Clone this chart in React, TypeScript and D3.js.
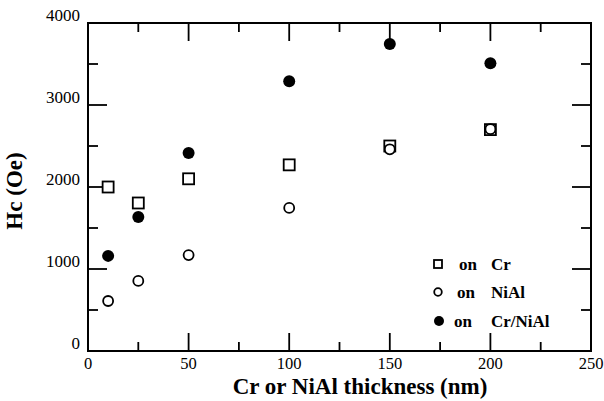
import React from "react";
import * as d3 from "d3";

const thickness = [10, 25, 50, 100, 150, 200];
const onCr = [2000, 1805, 2100, 2270, 2500, 2700];
const onNiAl = [610, 855, 1170, 1745, 2460, 2705];
const onCrNiAl = [1160, 1635, 2415, 3290, 3745, 3510];
const xTicks = [0, 50, 100, 150, 200, 250];
const yTicks = [0, 1000, 2000, 3000, 4000];
const legendLabels = [
  ["on", "Cr"],
  ["on", "NiAl"],
  ["on", "Cr/NiAl"],
];

const W = 604, H = 401;
const L = 88, R = 591, T = 23, B = 351;

export default function App() {
  const x = d3.scaleLinear().domain([0, 250]).range([L, R]);
  const y = d3.scaleLinear().domain([0, 4000]).range([B, T]);
  const xMinor = d3.range(0, 251, 25);
  const yMinor = d3.range(0, 4001, 500);
  const font = "'Liberation Serif', 'DejaVu Serif', serif";
  const sw = 1.8;

  const square = (cx: number, cy: number, k: string, s = 11) => (
    <rect key={k} x={cx - s / 2} y={cy - s / 2} width={s} height={s} fill="white" stroke="black" strokeWidth={1.8} />
  );
  const openC = (cx: number, cy: number, k: string, r = 5) => (
    <circle key={k} cx={cx} cy={cy} r={r} fill="white" stroke="black" strokeWidth={1.8} />
  );
  const fillC = (cx: number, cy: number, k: string, r = 6) => (
    <circle key={k} cx={cx} cy={cy} r={r} fill="black" />
  );

  const legendY = [264, 292, 321];
  const legendOnX = [459, 457, 454];
  const legendMarks = [
    square(438, legendY[0], "lm0", 8),
    openC(438, legendY[1], "lm1", 3.8),
    fillC(439, legendY[2], "lm2", 5),
  ];

  return (
    <svg width={W} height={H} style={{ position: "absolute", left: 0, top: 0, background: "white" }}>
      <rect x={0} y={0} width={W} height={H} fill="white" />
      {xMinor.map((v) => {
        const major = v % 50 === 0;
        const len = major ? 18 : 9;
        return (
          <g key={"xt" + v}>
            <line x1={x(v)} x2={x(v)} y1={B} y2={B - len} stroke="black" strokeWidth={sw} />
            <line x1={x(v)} x2={x(v)} y1={T} y2={T + len} stroke="black" strokeWidth={sw} />
          </g>
        );
      })}
      {yMinor.map((v) => {
        const major = v % 1000 === 0;
        const len = major ? 19 : 10;
        return (
          <g key={"yt" + v}>
            <line x1={L} x2={L + len} y1={y(v)} y2={y(v)} stroke="black" strokeWidth={sw} />
            <line x1={R} x2={R - len} y1={y(v)} y2={y(v)} stroke="black" strokeWidth={sw} />
          </g>
        );
      })}
      <rect x={L} y={T} width={R - L} height={B - T} fill="none" stroke="black" strokeWidth={2} />
      {xTicks.map((v) => (
        <text key={"xl" + v} x={x(v)} y={369} textAnchor="middle" fontFamily={font} fontSize={16.5}>
          {v}
        </text>
      ))}
      {yTicks.map((v) => (
        <text key={"yl" + v} x={80} y={y(v) - 2} textAnchor="end" fontFamily={font} fontSize={17}>
          {v}
        </text>
      ))}
      <text x={360} y={394} textAnchor="middle" fontFamily={font} fontSize={23} fontWeight="bold">
        Cr or NiAl thickness (nm)
      </text>
      <text transform={`translate(22, ${(T + B) / 2 + 4}) rotate(-90)`} textAnchor="middle" fontFamily={font} fontSize={23} fontWeight="bold">
        Hc (Oe)
      </text>
      {thickness.map((t, i) => square(x(t), y(onCr[i]), "s" + i))}
      {thickness.map((t, i) => openC(x(t), y(onNiAl[i]), "o" + i))}
      {thickness.map((t, i) => fillC(x(t), y(onCrNiAl[i]), "f" + i))}
      {legendLabels.map((lab, i) => (
        <g key={"lg" + i}>
          {legendMarks[i]}
          <text x={legendOnX[i]} y={legendY[i] + 6} fontFamily={font} fontSize={17} fontWeight="bold">
            {lab[0]}
          </text>
          <text x={491} y={legendY[i] + 6} fontFamily={font} fontSize={17} fontWeight="bold">
            {lab[1]}
          </text>
        </g>
      ))}
    </svg>
  );
}
